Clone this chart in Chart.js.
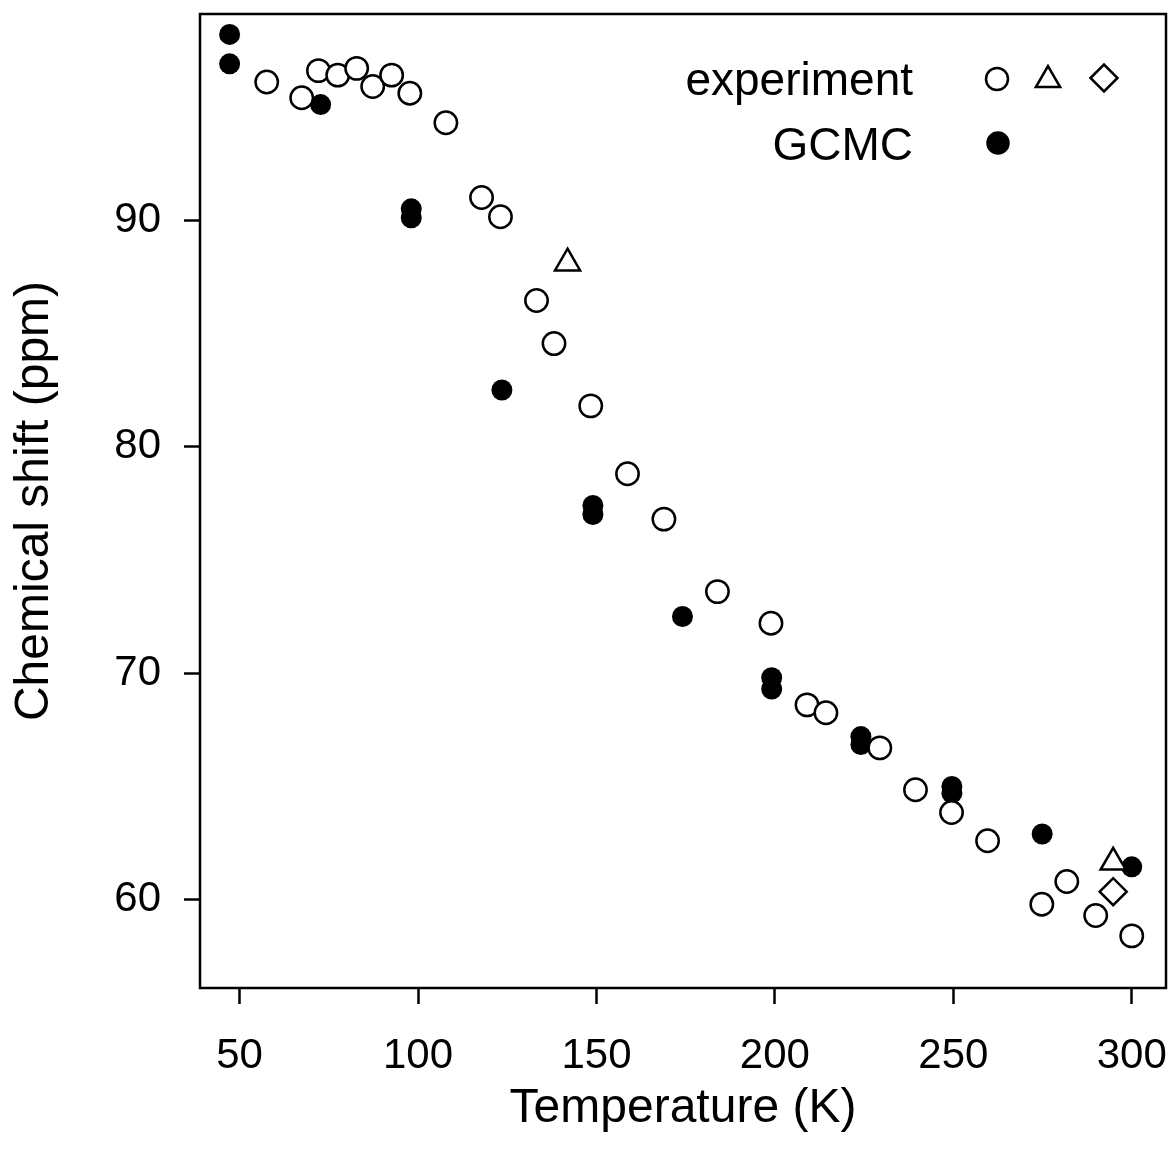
<!DOCTYPE html>
<html>
<head>
<meta charset="utf-8">
<script src="https://cdn.jsdelivr.net/npm/chart.js@4.4.0/dist/chart.umd.min.js"></script>
<style>
  html, body { margin: 0; padding: 0; background: #fff; }
  #wrap { width: 1172px; height: 1160px; position: relative; }
</style>
</head>
<body>
<div id="wrap"><canvas id="chart" width="1172" height="1160"></canvas></div>
<script>
// values
const expT = [57.6, 67.4, 72.1, 77.5, 82.8, 87.3, 92.6, 97.7, 107.8, 117.8, 123.1, 133.2, 138.1, 148.4,
              158.7, 168.9, 183.9, 198.9, 209.0, 214.3, 229.4, 239.4, 249.5, 259.6, 274.8, 281.8, 289.9, 300.0];
const expShift = [96.1, 95.4, 96.6, 96.4, 96.7, 95.9, 96.4, 95.6, 94.3, 91.0, 90.15, 86.45, 84.55, 81.8,
                  78.8, 76.8, 73.6, 72.2, 68.6, 68.25, 66.7, 64.85, 63.85, 62.6, 59.8, 60.8, 59.3, 58.4];

const triT = [141.9, 294.8];
const triShift = [88.1, 61.65];

const diaT = [294.8];
const diaShift = [60.35];

const gcmcT = [47.2, 47.2, 72.7, 98.1, 98.1, 123.5, 149.0, 149.0, 174.1, 199.1, 199.1, 224.1, 224.1,
               249.6, 249.6, 274.9, 300.0];
const gcmcShift = [98.2, 96.9, 95.1, 90.5, 90.1, 82.5, 77.4, 77.0, 72.5, 69.8, 69.3, 67.2, 66.85,
                   65.0, 64.7, 62.9, 61.45];

const xTicks = [50, 100, 150, 200, 250, 300];
const yTicks = [60, 70, 80, 90];

const FONT = "'Liberation Sans', Arial, Helvetica, sans-serif";

const pts = (xs, ys) => xs.map((x, i) => ({ x: x, y: ys[i] }));

// frame box + legend drawn by hand
const framePlugin = {
  id: 'frame',
  afterDraw(chart) {
    const { ctx, chartArea: a } = chart;
    ctx.save();
    ctx.strokeStyle = '#000';
    ctx.lineWidth = 2.5;
    ctx.strokeRect(a.left, a.top, a.right - a.left, a.bottom - a.top);

    ctx.fillStyle = '#000';
    ctx.font = '46px ' + FONT;
    ctx.textAlign = 'right';
    ctx.textBaseline = 'alphabetic';
    ctx.fillText('experiment', 913, 95);
    ctx.fillText('GCMC', 913, 160);

    const mark = (style, r, x, y, fill) => {
      ctx.fillStyle = fill;
      ctx.strokeStyle = '#000';
      ctx.lineWidth = 2.5;
      Chart.helpers.drawPoint(ctx, { pointStyle: style, radius: r, borderWidth: 2.5 }, x, y);
    };
    mark('circle', 11, 997, 79, '#fff');
    mark('triangle', 14, 1048, 80, '#fff');
    mark('rectRot', 13.5, 1104, 78, '#fff');
    mark('circle', 10.5, 998, 143, '#000');
    ctx.restore();
  }
};

new Chart(document.getElementById('chart'), {
  type: 'scatter',
  data: {
    datasets: [
      {
        label: 'experiment',
        data: pts(expT, expShift),
        pointStyle: 'circle',
        pointRadius: 11.2,
        borderWidth: 2.5,
        borderColor: '#000',
        backgroundColor: '#fff',
        clip: false
      },
      {
        label: 'experiment (triangle)',
        data: pts(triT, triShift),
        pointStyle: 'triangle',
        pointRadius: 14.5,
        borderWidth: 2.5,
        borderColor: '#000',
        backgroundColor: '#fff',
        clip: false
      },
      {
        label: 'experiment (diamond)',
        data: pts(diaT, diaShift),
        pointStyle: 'rectRot',
        pointRadius: 13.5,
        borderWidth: 2.5,
        borderColor: '#000',
        backgroundColor: '#fff',
        clip: false
      },
      {
        label: 'GCMC',
        data: pts(gcmcT, gcmcShift),
        pointStyle: 'circle',
        pointRadius: 10.5,
        borderWidth: 0,
        borderColor: '#000',
        backgroundColor: '#000',
        clip: false
      }
    ]
  },
  options: {
    responsive: false,
    animation: false,
    layout: { autoPadding: false, padding: { top: 14, right: 6, left: 0, bottom: 0 } },
    plugins: {
      legend: { display: false },
      tooltip: { enabled: false }
    },
    scales: {
      x: {
        type: 'linear',
        min: 38.9,
        max: 309.6,
        afterBuildTicks: s => { s.ticks = xTicks.map(v => ({ value: v })); },
        afterFit: s => {
          s.height = 172;
          s.paddingLeft = 0;
          s.paddingRight = 0;
        },
        ticks: {
          color: '#000',
          font: { family: FONT, size: 42 },
          padding: 27,
          maxRotation: 0,
          autoSkip: false
        },
        grid: {
          drawOnChartArea: false,
          drawTicks: true,
          tickLength: 16,
          tickWidth: 2.5,
          tickColor: '#000'
        },
        border: { display: false },
        title: {
          display: true,
          text: 'Temperature (K)',
          color: '#000',
          font: { family: FONT, size: 48 },
          padding: { top: 0, bottom: 22 }
        }
      },
      y: {
        type: 'linear',
        min: 56.1,
        max: 99.1,
        afterBuildTicks: s => { s.ticks = yTicks.map(v => ({ value: v })); },
        afterFit: s => {
          s.width = 200;
          s.paddingTop = 0;
          s.paddingBottom = 0;
        },
        ticks: {
          color: '#000',
          font: { family: FONT, size: 42 },
          padding: 23,
          autoSkip: false
        },
        grid: {
          drawOnChartArea: false,
          drawTicks: true,
          tickLength: 16,
          tickWidth: 2.5,
          tickColor: '#000'
        },
        border: { display: false },
        title: {
          display: true,
          text: 'Chemical shift (ppm)',
          color: '#000',
          font: { family: FONT, size: 48 },
          padding: { top: 6, bottom: 0 }
        }
      }
    }
  },
  plugins: [framePlugin]
});
</script>
</body>
</html>
